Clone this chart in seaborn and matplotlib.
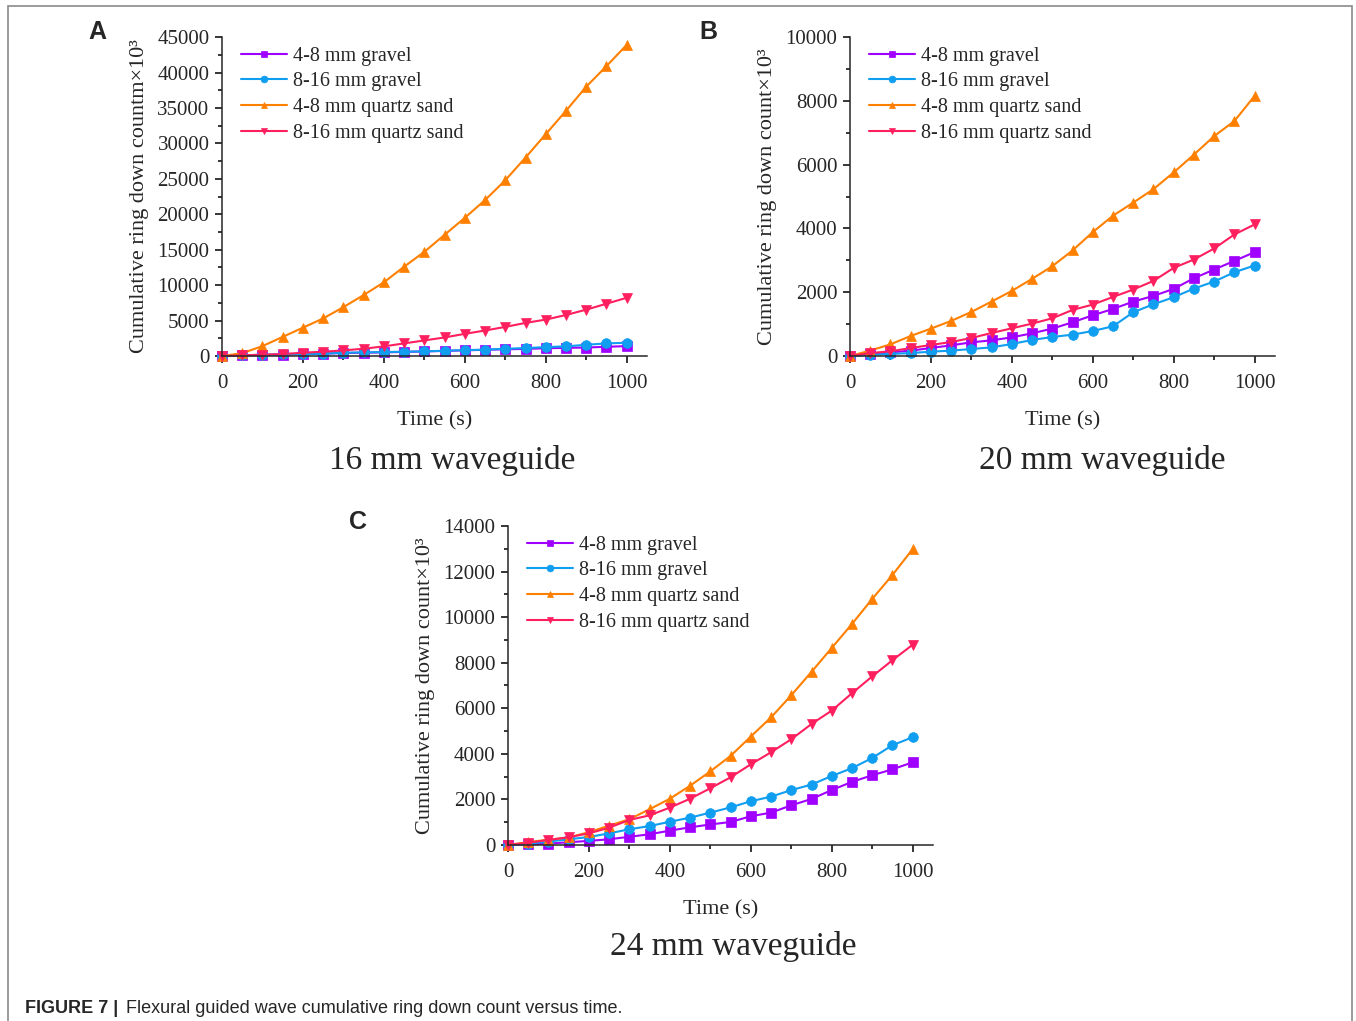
import pandas as pd
import matplotlib.pyplot as plt
import seaborn as sns
from matplotlib.patches import Rectangle
from matplotlib.ticker import MultipleLocator

# --- data ---
time_s = [0, 50, 100, 150, 200, 250, 300, 350, 400, 450, 500,
          550, 600, 650, 700, 750, 800, 850, 900, 950, 1000]

series_names = ["4-8 mm gravel", "8-16 mm gravel", "4-8 mm quartz sand", "8-16 mm quartz sand"]
series_colors = ["#A000FF", "#109EF0", "#FF8000", "#FF1F5E"]
series_markers = ["s", "o", "^", "v"]

# (A) 16 mm waveguide
a_gravel_4_8 = [0, 80, 150, 200, 270, 330, 420, 470, 520, 580, 650,
                720, 800, 880, 950, 1000, 1100, 1150, 1200, 1300, 1400]
a_gravel_8_16 = [0, 90, 190, 230, 280, 330, 470, 510, 560, 610, 650,
                 750, 840, 890, 1030, 1120, 1260, 1360, 1590, 1780, 1870]
a_sand_4_8 = [0, 400, 1400, 2700, 4000, 5300, 6900, 8600, 10400, 12600, 14700,
              17100, 19500, 22000, 24800, 28000, 31300, 34600, 38000, 40900, 43900]
a_sand_8_16 = [0, 90, 190, 280, 470, 610, 790, 1030, 1360, 1780, 2200,
               2620, 3130, 3600, 4110, 4670, 5140, 5790, 6540, 7380, 8220]

# (B) 20 mm waveguide
b_gravel_4_8 = [0, 52, 115, 168, 251, 335, 429, 492, 586, 712, 859,
                1058, 1277, 1476, 1707, 1885, 2105, 2440, 2712, 2984, 3257]
b_gravel_8_16 = [0, 42, 63, 94, 136, 168, 220, 272, 377, 503, 597,
                 670, 785, 932, 1372, 1623, 1843, 2115, 2335, 2628, 2838]
b_sand_4_8 = [0, 170, 366, 628, 859, 1100, 1382, 1707, 2042, 2419, 2817,
              3309, 3885, 4400, 4810, 5232, 5758, 6316, 6895, 7368, 8158]
b_sand_8_16 = [0, 94, 147, 251, 346, 440, 565, 722, 869, 1016, 1183,
               1445, 1613, 1853, 2084, 2356, 2764, 3026, 3372, 3812, 4126]

# (C) 24 mm waveguide
c_gravel_4_8 = [0, 30, 60, 120, 180, 250, 360, 470, 630, 775, 900,
                1010, 1260, 1420, 1740, 2020, 2410, 2770, 3060, 3320, 3630]
c_gravel_8_16 = [0, 60, 150, 250, 350, 510, 690, 830, 1020, 1200, 1420,
                 1650, 1920, 2120, 2410, 2650, 3030, 3370, 3820, 4380, 4730]
c_sand_4_8 = [0, 130, 230, 330, 560, 850, 1130, 1570, 2030, 2600, 3230,
              3910, 4760, 5600, 6570, 7600, 8650, 9700, 10800, 11850, 12990]
c_sand_8_16 = [0, 100, 220, 340, 510, 760, 1100, 1300, 1640, 2030, 2490,
               2970, 3540, 4070, 4640, 5310, 5900, 6660, 7400, 8110, 8790]

panels = [
    ("A", "16 mm waveguide", "Cumulative ring down countm\u00d710\u00b3",
     [a_gravel_4_8, a_gravel_8_16, a_sand_4_8, a_sand_8_16], 45000, 5000),
    ("B", "20 mm waveguide", "Cumulative ring down count\u00d710\u00b3",
     [b_gravel_4_8, b_gravel_8_16, b_sand_4_8, b_sand_8_16], 10000, 2000),
    ("C", "24 mm waveguide", "Cumulative ring down count\u00d710\u00b3",
     [c_gravel_4_8, c_gravel_8_16, c_sand_4_8, c_sand_8_16], 14000, 2000),
]

# axes boxes in figure fractions (left, bottom, width, height)
boxes = [
    [0.1637, 0.6513, 0.3134, 0.3124],
    [0.6268, 0.6513, 0.3134, 0.3124],
    [0.3746, 0.1724, 0.3134, 0.3124],
]
subtitle_pos = [(0.3333, 0.5490), (0.8127, 0.5490), (0.5405, 0.0730)]
letter_pos = [(0.0715, 0.9687), (0.5221, 0.9687), (0.2640, 0.4887)]

sns.set_style("ticks")
plt.rcParams["font.family"] = ["Liberation Serif", "DejaVu Serif"]
plt.rcParams["axes.linewidth"] = 1.1

fig = plt.figure(figsize=(13.56, 10.21), dpi=100)

for (letter, subtitle, ylabel, values, ytop, ystep), box, sp, lp in zip(panels, boxes, subtitle_pos, letter_pos):
    ax = fig.add_axes(box)
    for name, vals, col, mk in zip(series_names, values, series_colors, series_markers):
        sns.lineplot(x=time_s, y=vals, ax=ax, color=col, marker=mk, markersize=7,
                     markeredgecolor=col, markeredgewidth=0.5, linewidth=1.5,
                     label=name, clip_on=False)
    ax.set_xlim(0, 1050)
    ax.set_ylim(0, ytop)
    ax.xaxis.set_major_locator(MultipleLocator(200))
    ax.xaxis.set_minor_locator(MultipleLocator(100))
    ax.yaxis.set_major_locator(MultipleLocator(ystep))
    ax.yaxis.set_minor_locator(MultipleLocator(ystep / 2))
    ax.tick_params(which="major", direction="out", length=5, width=1.1, labelsize=15, color="black")
    ax.tick_params(which="minor", direction="out", length=3, width=1.1, color="black")
    ax.tick_params(axis="x", pad=8)
    ax.tick_params(axis="y", pad=4)
    sns.despine(ax=ax)
    ax.set_xlabel("Time (s)", fontsize=16, labelpad=13)
    ax.set_ylabel(ylabel, fontsize=16, labelpad=6)
    ax.legend(loc="upper left", bbox_to_anchor=(0.045, 0.97), frameon=False,
              fontsize=14.5, handlelength=2.3, handletextpad=0.3, labelspacing=0.33,
              borderpad=0, borderaxespad=0, markerscale=0.7)
    fig.text(sp[0], sp[1], subtitle, fontsize=24, ha="center", va="center")
    fig.text(lp[0], lp[1], letter, fontsize=18, fontweight="bold", ha="center", va="center",
             family=["Liberation Sans", "DejaVu Sans"])

# caption
fig.text(0.0184, 0.0127, "FIGURE 7 |", fontsize=13, fontweight="bold", va="center",
         family=["Liberation Sans", "DejaVu Sans"])
fig.text(0.0930, 0.0127, "Flexural guided wave cumulative ring down count versus time.",
         fontsize=13, va="center", family=["Liberation Sans", "DejaVu Sans"])

# thin frame around the figure
fig.add_artist(Rectangle((0.0059, -0.01), 0.9912, 1.0041, transform=fig.transFigure,
                         fill=False, edgecolor="#8a8a8a", linewidth=1.2))

fig.savefig("out.png", dpi=100)
plt.close()
print("Generated out.png")
